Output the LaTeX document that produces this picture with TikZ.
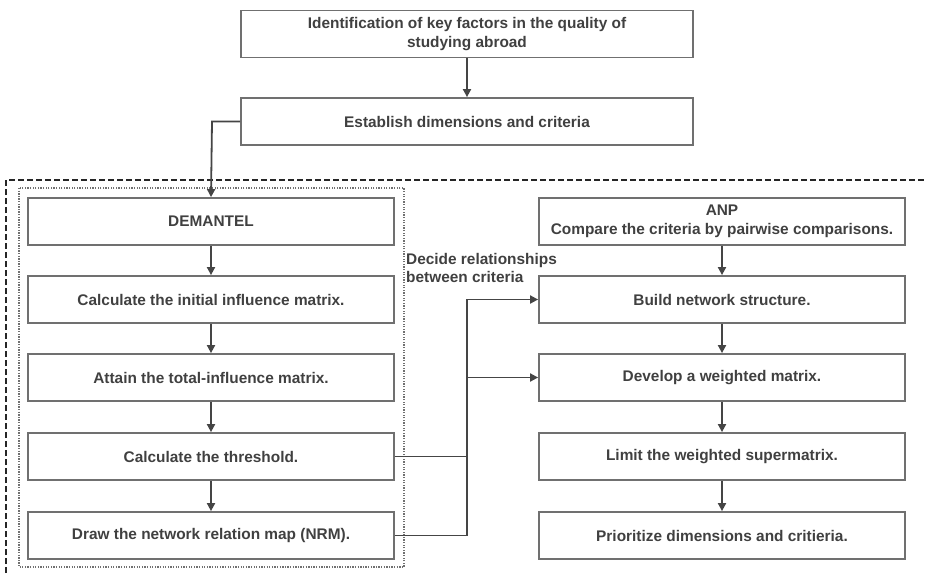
\documentclass[tikz,border=0pt]{standalone}
\usepackage{fontspec}
\setmainfont{Liberation Sans}
\usetikzlibrary{arrows.meta}
\definecolor{boxc}{HTML}{707070}
\definecolor{txtc}{HTML}{404040}
\definecolor{linec}{HTML}{454545}
\begin{document}
\begin{tikzpicture}[x=1pt,y=-1pt,
  every node/.style={font=\bfseries\fontsize{15.4}{18.5}\selectfont, text=txtc},
  box/.style={draw=boxc, line width=1.8pt, minimum height=47pt, inner sep=0pt, align=center},
  lbox/.style={box, minimum width=366pt},
  wbox/.style={box, minimum width=452pt},
  conn/.style={draw=linec, line width=1.8pt},
  arr/.style={conn, -{Triangle[width=8pt,length=8pt]}}]
\useasboundingbox (0,0) rectangle (925,573);
% outer dashed frame
\draw[line width=1.5pt, black!85, dash pattern=on 6pt off 3pt] (6,573) -- (6,180) -- (925,180);
% dotted frame
\draw[line width=1.3pt, boxc, dash pattern=on 1.3pt off 1.3pt] (19,188) rectangle (404,567);
% top
\node[wbox] (id) at (467,34) {Identification of key factors in the quality of\\studying abroad};
\node[wbox] (est) at (467,121.5) {Establish dimensions and criteria};
% left column
\node[lbox] (dem) at (211,221.5) {DEMANTEL};
\node[lbox] (l1) at (211,299.5) {Calculate the initial influence matrix.};
\node[lbox] (l2) at (211,377.5) {Attain the total-influence matrix.};
\node[lbox] (l3) at (211,456.5) {Calculate the threshold.};
\node[lbox] (l4) at (211,535.5) {Draw the network relation map (NRM).};
% right column
\node[lbox] (anp) at (722,221.5) {ANP\\Compare the criteria by pairwise comparisons.};
\node[lbox] (r1) at (722,299.5) {Build network structure.};
\node[lbox] (r2) at (722,377.5) {Develop a weighted matrix.};
\node[lbox] (r3) at (722,456.5) {Limit the weighted supermatrix.};
\node[lbox] (r4) at (722,535.5) {Prioritize dimensions and critieria.};
% label
\node[anchor=north west, align=left, inner sep=0pt] (lab) at (406,253) {Decide relationships\\between criteria};
% connectors
\draw[arr] (id) -- (est);
\draw[arr] (est.west) -- (212,121.5) -- (dem.north);
\draw[arr] (dem) -- (l1);
\draw[arr] (l1) -- (l2);
\draw[arr] (l2) -- (l3);
\draw[arr] (l3) -- (l4);
\draw[arr] (anp) -- (r1);
\draw[arr] (r1) -- (r2);
\draw[arr] (r2) -- (r3);
\draw[arr] (r3) -- (r4);
\draw[arr] (l3.east) -- (467,456.5) |- (r1.west);
\draw[arr] (l4.east) -- (467,535.5) |- (r2.west);
\end{tikzpicture}
\end{document}
